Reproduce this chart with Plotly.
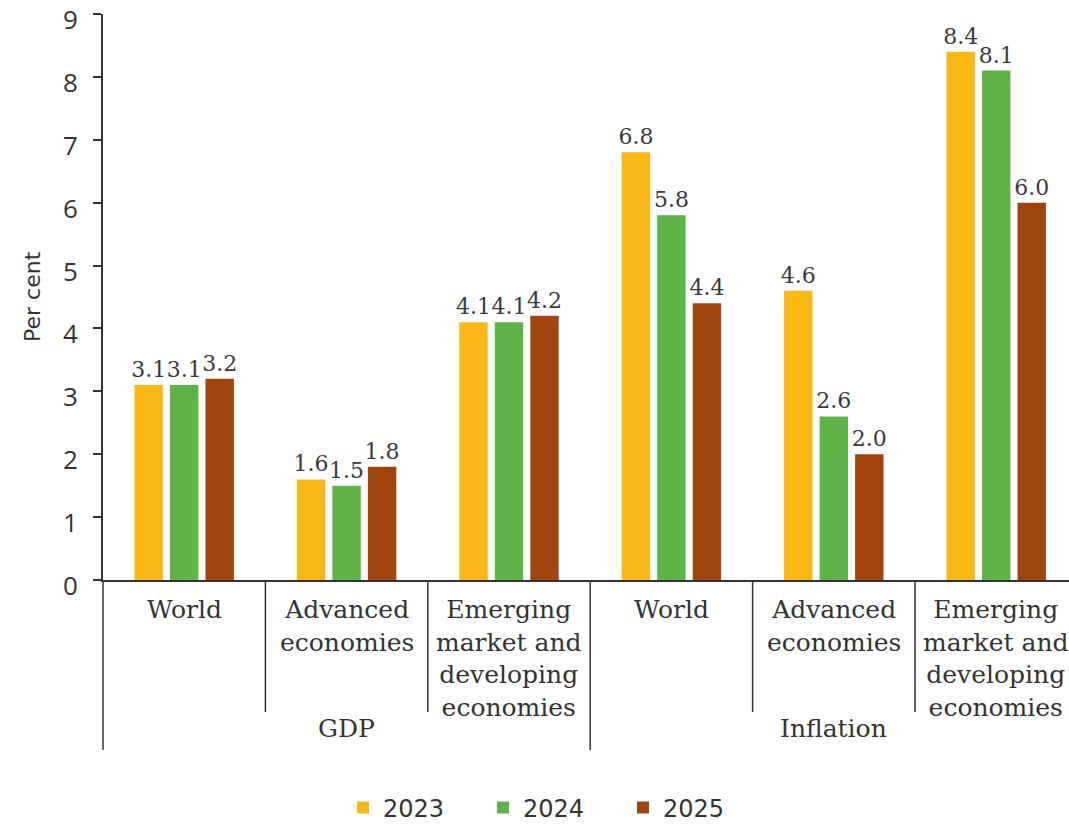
import plotly.graph_objects as go

# Groups along the x axis (GDP then Inflation)
categories = [
    "World",
    "Advanced<br>economies",
    "Emerging<br>market and<br>developing<br>economies",
    "World",
    "Advanced<br>economies",
    "Emerging<br>market and<br>developing<br>economies",
]
group_titles = ["GDP", "Inflation"]
years = ["2023", "2024", "2025"]

values_2023 = [3.1, 1.6, 4.1, 6.8, 4.6, 8.4]
values_2024 = [3.1, 1.5, 4.1, 5.8, 2.6, 8.1]
values_2025 = [3.2, 1.8, 4.2, 4.4, 2.0, 6.0]

y_ticks = [0, 1, 2, 3, 4, 5, 6, 7, 8, 9]

colors = ["#FAB817", "#5FB348", "#A1450F"]
series = [values_2023, values_2024, values_2025]

W, H = 1069, 825
L, R, T, B = 103, 0, 14, 245
plot_w = W - L - R
plot_h = H - T - B
group_px = 162.4
x_min = -0.5
x_max = x_min + plot_w / group_px

x_pos = list(range(len(categories)))

fig = go.Figure()
for name, vals, col in zip(years, series, colors):
    fig.add_trace(go.Bar(
        x=x_pos, y=vals, name=name,
        marker=dict(color=col, line=dict(width=0)),
        text=[f"{v:.1f}" for v in vals],
        textposition="outside",
        constraintext="none",
        textfont=dict(family="DejaVu Serif", size=22, color="#3a3a3a"),
        cliponaxis=False,
    ))

line_col = "#333333"

def px_to_paper_y(py):
    return (T + plot_h - py) / plot_h

shapes = []
for k in range(len(categories)):
    xp = k * group_px / plot_w
    long_line = k in (0, 3)
    y_end = px_to_paper_y(750 if long_line else 712)
    shapes.append(dict(type="line", xref="paper", yref="paper",
                       x0=xp, x1=xp, y0=0, y1=y_end,
                       line=dict(color=line_col, width=1.5)))

annotations = []
# y tick labels, set a little below their tick marks
for t in y_ticks:
    annotations.append(dict(
        x=(80 - L) / plot_w, y=t, xref="paper", yref="y",
        text=str(t), showarrow=False, xanchor="right", yanchor="middle",
        yshift=-5,
        font=dict(family="Open Sans", size=26, color="#333333"),
    ))
for i, lab in enumerate(categories):
    annotations.append(dict(
        x=i, y=px_to_paper_y(593), xref="x", yref="paper",
        text=lab, showarrow=False, yanchor="top", xanchor="center",
        font=dict(family="DejaVu Serif", size=25, color="#333333"),
    ))
for j, title in enumerate(group_titles):
    annotations.append(dict(
        x=1 + 3 * j, y=px_to_paper_y(728), xref="x", yref="paper",
        text=title, showarrow=False, yanchor="middle", xanchor="center",
        font=dict(family="DejaVu Serif", size=25, color="#333333"),
    ))
annotations.append(dict(
    x=(32 - L) / plot_w, y=0.5, xref="paper", yref="paper",
    text="Per cent", textangle=-90, showarrow=False,
    xanchor="center", yanchor="middle",
    font=dict(family="DejaVu Sans", size=22, color="#333333"),
))

fig.update_layout(
    width=W, height=H,
    margin=dict(l=L, r=R, t=T, b=B, autoexpand=False),
    paper_bgcolor="white", plot_bgcolor="white",
    barmode="group", bargap=0.344, bargroupgap=0.2,
    uniformtext=dict(mode=False),
    shapes=shapes, annotations=annotations,
    showlegend=True,
    legend=dict(
        orientation="h", x=(343 - L) / plot_w, xanchor="left",
        y=px_to_paper_y(808), yanchor="middle",
        entrywidth=95, entrywidthmode="pixels",
        font=dict(family="DejaVu Sans", size=24, color="#333333"),
        bgcolor="rgba(0,0,0,0)",
    ),
    xaxis=dict(
        range=[x_min, x_max], showticklabels=False, ticks="",
        showgrid=False, zeroline=False,
        showline=True, linecolor=line_col, linewidth=1.5,
    ),
    yaxis=dict(
        range=[0, 9], tickvals=y_ticks, showticklabels=False,
        ticks="outside", ticklen=8, tickwidth=1.5, tickcolor=line_col,
        showline=True, linecolor=line_col, linewidth=1.5,
        showgrid=False, zeroline=False,
    ),
)

fig.write_html("out.html")
